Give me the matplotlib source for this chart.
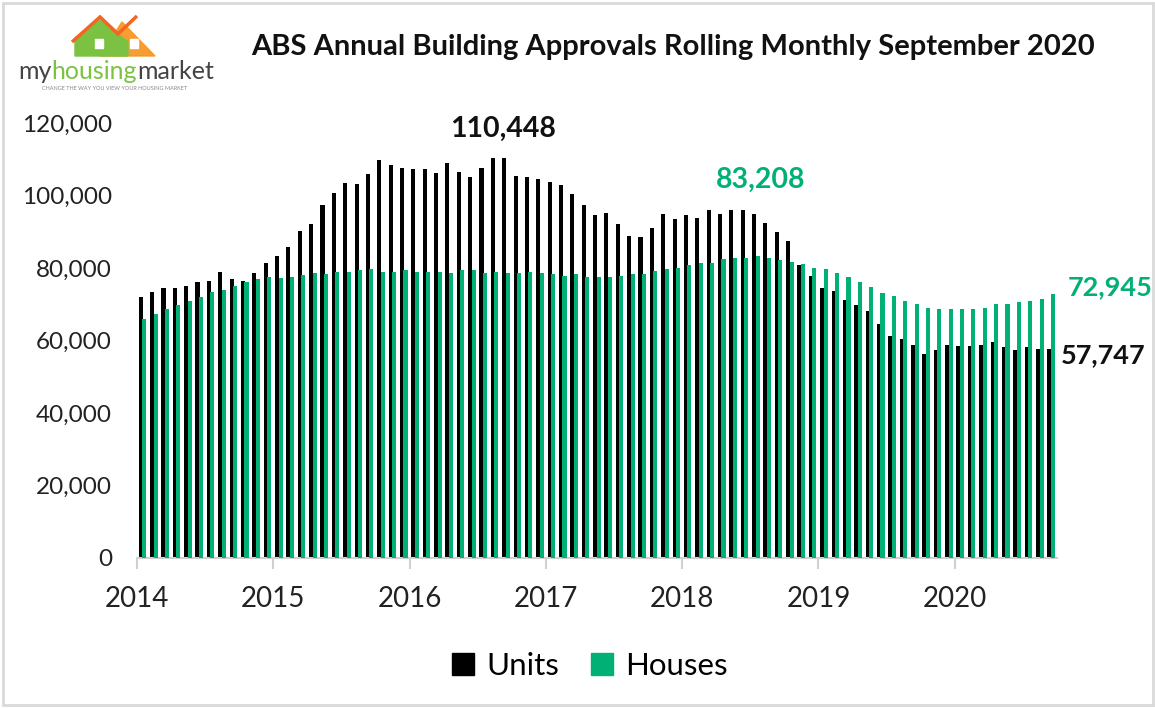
import matplotlib
matplotlib.use('Agg')
import matplotlib.pyplot as plt
from matplotlib.patches import Patch, Polygon, Rectangle
import numpy as np

plt.rcParams['font.family'] = ['Lato', 'DejaVu Sans']

# monthly rolling annual approvals, Jan 2014 .. Sep 2020
units = [71900, 73300, 74400, 74400, 75100, 76100, 76500, 79000, 76900, 76500, 78600, 81500,
         83200, 85700, 90300, 92100, 97300, 100600, 103400, 103100, 105900, 109700, 108300, 107600,
         107200, 107200, 106100, 109000, 106600, 105100, 107600, 110448, 110400, 105500, 105100, 104500,
         103700, 103000, 100500, 97300, 94500, 95300, 92100, 88900, 88500, 91000, 94900, 93400,
         94500, 93800, 95900, 94900, 95900, 95900, 94900, 92400, 89900, 87500, 80700, 77900,
         74400, 73700, 71200, 69800, 68100, 64500, 61300, 60300, 58800, 56400, 57400, 58800,
         58500, 58500, 58800, 59500, 58100, 57400, 58100, 57700, 57747]
houses = [65900, 67300, 68700, 69800, 70800, 71900, 73300, 74000, 75100, 76100, 76900, 77600,
          77200, 77600, 78000, 78600, 78300, 79000, 79000, 79400, 79700, 79000, 79000, 79400,
          79000, 79000, 79000, 78600, 79400, 79400, 78600, 79000, 78600, 78600, 79000, 78600,
          78300, 77900, 78300, 77500, 77500, 77500, 77900, 78300, 78300, 79300, 79600, 80000,
          80700, 81500, 81500, 82500, 82800, 82800, 83208, 82800, 82100, 81700, 81100, 80000,
          79700, 78600, 77500, 76100, 74800, 73000, 72300, 70800, 70200, 69100, 68700, 68700,
          68700, 68700, 69100, 70200, 70200, 70500, 70900, 71500, 72945]
years = ['2014', '2015', '2016', '2017', '2018', '2019', '2020']
yticks = [0, 20000, 40000, 60000, 80000, 100000, 120000]

GREEN = '#00B074'
W, H = 1155, 708

fig = plt.figure(figsize=(W / 100, H / 100), dpi=100)
ax = fig.add_axes([137 / W, 1 - 558 / H, (1057 - 137) / W, (558 - 123) / H])

x = np.arange(len(units))
ax.bar(x + 0.33, units, width=0.36, color='black', zorder=2)
ax.bar(x + 0.64, houses, width=0.36, color=GREEN, zorder=3)

ax.set_xlim(0, len(units))
ax.set_ylim(0, 120000)
ax.set_yticks(yticks)
ax.set_yticklabels(['{:,}'.format(v) for v in yticks], fontsize=17.5, color='#222222')
ax.set_xticks(np.arange(len(years)) * 12)
ax.set_xticklabels(years, fontsize=20, color='#222222')
ax.tick_params(axis='y', length=0, pad=18)
ax.tick_params(axis='x', length=8, color='#d0d0d0', width=1.5, pad=12)
for s in ['top', 'right', 'left']:
    ax.spines[s].set_visible(False)
ax.spines['bottom'].set_color('#d0d0d0')
ax.spines['bottom'].set_linewidth(1.5)

# value call-outs
imax = int(np.argmax(units))
ax.text(imax + 1.2, units[imax] + 8000, '{:,}'.format(units[imax]), ha='center', va='center',
        fontsize=20.5, fontweight='bold', color='#111111')
hmax = int(np.argmax(houses))
ax.text(hmax + 0.9, houses[hmax] + 21000, '{:,}'.format(houses[hmax]), ha='center', va='center',
        fontsize=20.5, fontweight='bold', color=GREEN)
ax.text(len(units) + 0.95, houses[-1] + 1800, '{:,}'.format(houses[-1]), ha='left', va='center',
        fontsize=19.5, fontweight='bold', color=GREEN, clip_on=False)
ax.text(len(units) + 0.3, units[-1] - 1700, '{:,}'.format(units[-1]), ha='left', va='center',
        fontsize=19.5, fontweight='bold', color='#111111', clip_on=False)

fig.text(673 / W, 1 - 47 / H, 'ABS Annual Building Approvals Rolling Monthly September 2020',
         ha='center', va='center', fontsize=21, fontweight='bold', color='#111111')

fig.legend(handles=[Patch(color='black', label='Units'), Patch(color=GREEN, label='Houses')],
           loc='center', bbox_to_anchor=(590 / W, 1 - 666 / H), ncol=2, frameon=False,
           fontsize=22.5, handlelength=0.7, handleheight=0.7, handletextpad=0.4, columnspacing=1.0)

# logo, roughly
def fp(pts):
    return [(px / W, 1 - py / H) for px, py in pts]

fig.patches.append(Polygon(fp([(122, 22), (155, 56), (100, 56)]), closed=True,
                           transform=fig.transFigure, color='#F7941D', alpha=0.9))
fig.patches.append(Polygon(fp([(75, 56), (75, 38), (100, 20), (128, 42), (128, 56)]), closed=True,
                           transform=fig.transFigure, color='#7CC242'))
fig.patches.append(Polygon(fp([(72, 42), (100, 17), (118, 34), (137, 16)]), closed=False, fill=False,
                           transform=fig.transFigure, edgecolor='#F26522', linewidth=2.5))
for wx in (95, 130):
    fig.patches.append(Rectangle((wx / W, 1 - 48 / H), 8 / W, 9 / H, transform=fig.transFigure,
                                 color='white'))
t1 = fig.text(18 / W, 1 - 83 / H, 'my', fontsize=18, color='#444444', va='bottom')
t2 = fig.text(0, 0, 'housing', fontsize=18, color='#7CC242', va='bottom')
t3 = fig.text(0, 0, 'market', fontsize=18, color='#444444', va='bottom')
fig.canvas.draw()
r = fig.canvas.get_renderer()
b1 = t1.get_window_extent(r)
t2.set_position((b1.x1 / W, 1 - 83 / H))
b2 = t2.get_window_extent(r)
t3.set_position((b2.x1 / W, 1 - 83 / H))
fig.text(115 / W, 1 - 89 / H, 'CHANGE THE WAY YOU VIEW YOUR HOUSING MARKET', fontsize=4,
         color='#888888', ha='center', va='center')

fig.patches.append(Rectangle((3 / W, 3 / H), 1 - 5 / W, 1 - 6 / H, transform=fig.transFigure,
                             fill=False, edgecolor='#d9d9d9', linewidth=2, zorder=0))

fig.savefig('out.png', dpi=100)
